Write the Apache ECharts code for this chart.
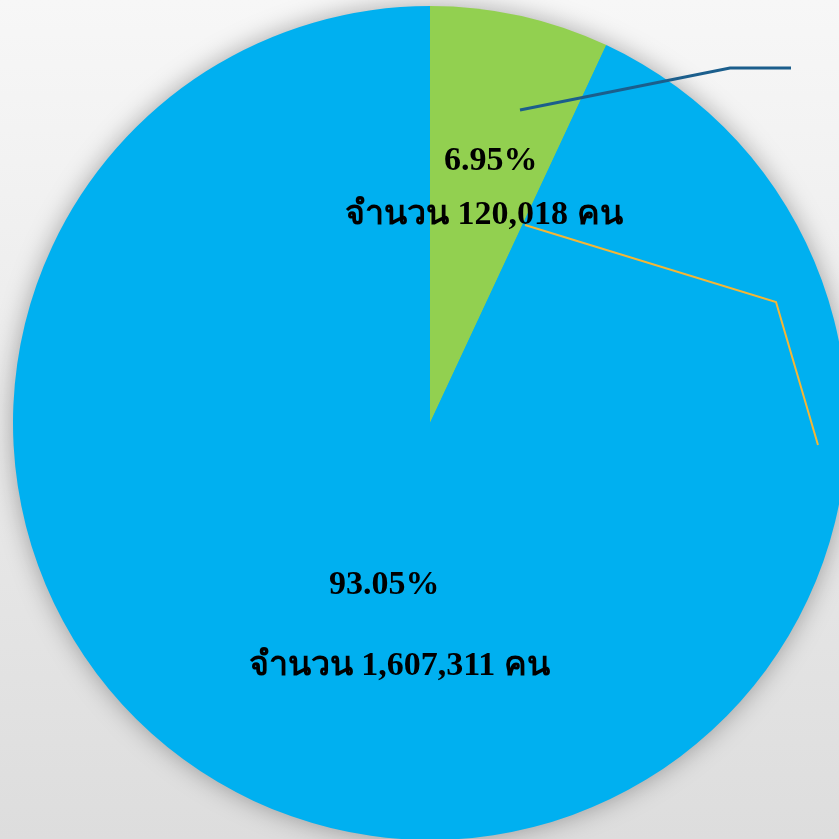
<!DOCTYPE html>
<html>
<head>
<meta charset="utf-8">
<script src="https://cdn.jsdelivr.net/npm/echarts@6/dist/echarts.min.js"></script>
<style>
html,body{margin:0;padding:0;}
#main{width:839px;height:839px;}
</style>
</head>
<body>
<div id="main"></div>
<script>
var names = ['กลุ่ม 1', 'กลุ่ม 2'];
var counts = [120018, 1607311];
var colors = ['#92D050', '#00B0F0'];

var total = counts.reduce(function(a, b){ return a + b; }, 0);
function fmt(n){ return n.toString().replace(/\B(?=(\d{3})+(?!\d))/g, ','); }

var font = '"Liberation Serif", "Times New Roman", serif';
function txt(extra){
    var o = {fontSize: 34, fontWeight: 'bold', color: '#000', fontFamily: font, lineHeight: 54};
    for (var k in extra) o[k] = extra[k];
    return o;
}

var myChart = echarts.init(document.getElementById('main'));
var option = {
    backgroundColor: {
        type: 'linear', x: 0, y: 0, x2: 0, y2: 1,
        colorStops: [{offset: 0, color: '#f7f7f7'}, {offset: 1, color: '#dddddd'}]
    },
    animation: false,
    series: [{
        // shadow underlay
        type: 'pie',
        center: [430, 423],
        radius: [0, 416],
        silent: true,
        z: 1,
        label: {show: false},
        labelLine: {show: false},
        itemStyle: {color: '#00B0F0', shadowBlur: 26, shadowColor: 'rgba(0,0,0,0.35)'},
        data: [total]
    }, {
        type: 'pie',
        center: [430, 423],
        radius: [0, 417],
        startAngle: 90,
        clockwise: true,
        silent: true,
        z: 2,
        label: {
            show: true,
            position: 'inner',
            formatter: function(p){
                var pct = (p.value / total * 100).toFixed(2) + '%';
                return '{p|' + pct + '}\n{n|จำนวน ' + fmt(p.value) + ' คน}';
            },
            rich: {
                p: txt({padding: [0, 0, 0, 14]}),
                n: txt({})
            }
        },
        labelLayout: function(params){
            return params.dataIndex == 0 ? {dx: 8, dy: -28} : {dy: -4};
        },
        labelLine: {show: false},
        data: counts.map(function(v, i){
            var d = {value: v, name: names[i], itemStyle: {color: colors[i]}};
            if (i == 1) {
                d.label = {
                    rich: {
                        p: txt({padding: [0, 0, 27, 0]}),
                        n: txt({padding: [27, 0, 0, 30]})
                    }
                };
            }
            return d;
        })
    }],
    graphic: [
        {type: 'polyline', z: 100, shape: {points: [[520, 110], [730, 68], [791, 68]]}, style: {stroke: '#1b5e8c', lineWidth: 3, fill: null}},
        {type: 'polyline', z: 100, shape: {points: [[525, 225], [776, 302], [818, 445]]}, style: {stroke: '#f5b635', lineWidth: 2, fill: null}}
    ]
};
myChart.setOption(option);
</script>
</body>
</html>
